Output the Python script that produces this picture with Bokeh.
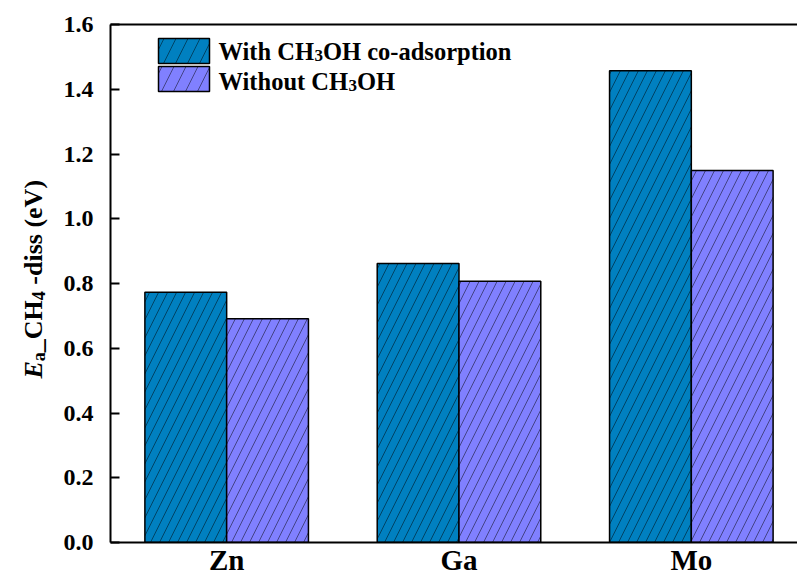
import math
from bokeh.plotting import figure
from bokeh.layouts import row
from bokeh.models import Range1d, FixedTicker, LinearAxis, Label, BoxAnnotation
from bokeh.embed import file_html
from bokeh.resources import INLINE

# ---------------- data ----------------
categories = ["Zn", "Ga", "Mo"]
with_ch3oh = [0.773, 0.862, 1.457]
without_ch3oh = [0.691, 0.807, 1.149]
y_ticks = [0.0, 0.2, 0.4, 0.6, 0.8, 1.0, 1.2, 1.4, 1.6]
y_tick_labels = ["0.0", "0.2", "0.4", "0.6", "0.8", "1.0", "1.2", "1.4", "1.6"]

# ---------------- style / layout ----------------
FONT = "Liberation Serif"
BLUE = "#0080C0"
PURPLE = "#8080FF"
BAR_W = 0.352
PAGE_W, PAGE_H = 797, 578
TITLE_W = 56                 # narrow strip that carries the rotated y title
B_LEFT, B_TOP, B_BOTTOM = 110, 24, 34
X0, X1 = 0.5, 3.457
Y0, Y1 = 0.0, 1.6

# approximate advance widths (Times/Liberation Serif Bold), per em
W = {"W": 1.0, "i": .278, "t": .333, "h": .556, " ": .25, "C": .722, "H": .778,
     "O": .778, "c": .444, "o": .5, "-": .333, "a": .5, "d": .556, "s": .389,
     "r": .444, "p": .556, "n": .556, "u": .556, "_": .5, "3": .5, "4": .5,
     "(": .333, ")": .333, "e": .444, "V": .722, "E": .667}


def text_width(s, size):
    return sum(W.get(ch, .5) for ch in s) * size


x = list(range(1, len(categories) + 1))

# ---------------- main chart ----------------
fig = figure(width=PAGE_W - TITLE_W, height=PAGE_H, output_backend="svg",
             toolbar_location=None, x_range=Range1d(X0, X1), y_range=Range1d(Y0, Y1),
             min_border_left=B_LEFT - TITLE_W, min_border_right=0,
             min_border_top=B_TOP, min_border_bottom=B_BOTTOM)
fig.outline_line_color = None
fig.xgrid.visible = False
fig.ygrid.visible = False
fig.background_fill_color = "white"
fig.border_fill_color = "white"

hatch_kw = dict(hatch_pattern="/", hatch_scale=18, hatch_color="black",
                hatch_alpha=0.6, hatch_weight=0.8)
fig.vbar(x=[xi - BAR_W / 2 for xi in x], top=with_ch3oh, bottom=0, width=BAR_W,
         fill_color=BLUE, line_color="black", line_width=1.5, **hatch_kw)
fig.vbar(x=[xi + BAR_W / 2 for xi in x], top=without_ch3oh, bottom=0, width=BAR_W,
         fill_color=PURPLE, line_color="black", line_width=1.5, **hatch_kw)

# y axis
ya = fig.yaxis[0]
ya.ticker = FixedTicker(ticks=y_ticks, minor_ticks=[])
ya.major_label_overrides = {t: l for t, l in zip(y_ticks, y_tick_labels)}
ya.major_label_text_font = FONT
ya.major_label_text_font_style = "bold"
ya.major_label_text_font_size = "24px"
ya.major_label_text_color = "black"
ya.major_label_standoff = 17
ya.major_tick_in = 9
ya.major_tick_out = 0
ya.major_tick_line_width = 2
ya.axis_line_width = 2
ya.minor_tick_line_color = None

# x axis with category labels
xa = fig.xaxis[0]
xa.ticker = FixedTicker(ticks=x, minor_ticks=[])
xa.major_label_overrides = {xi: c for xi, c in zip(x, categories)}
xa.major_label_text_font = FONT
xa.major_label_text_font_style = "bold"
xa.major_label_text_font_size = "29px"
xa.major_label_text_color = "black"
xa.major_label_standoff = 1
xa.major_tick_line_color = None
xa.major_tick_in = 0
xa.major_tick_out = 0
xa.minor_tick_line_color = None
xa.axis_line_width = 2

# top frame line
top = LinearAxis(ticker=FixedTicker(ticks=[], minor_ticks=[]),
                 major_tick_line_color=None, minor_tick_line_color=None,
                 axis_line_width=2)
fig.add_layout(top, "above")

# legend (screen units relative to the frame)
LEG_FS, LEG_SUB = 24.5, 17
legend_rows = [
    (BLUE, [("With CH", LEG_FS, 0), ("3", LEG_SUB, -4), ("OH co-adsorption", LEG_FS, 0)],
     504, 479, 491),
    (PURPLE, [("Without CH", LEG_FS, 0), ("3", LEG_SUB, -4), ("OH", LEG_FS, 0)],
     476, 451, 461),
]
for color, parts, btop, bbot, base in legend_rows:
    fig.add_layout(BoxAnnotation(left=48, right=99, top=btop, bottom=bbot,
                                 left_units="screen", right_units="screen",
                                 top_units="screen", bottom_units="screen",
                                 fill_color=color, fill_alpha=1.0,
                                 line_color="black", line_width=1.5, line_alpha=1.0,
                                 hatch_pattern="/", hatch_scale=24, hatch_color="black",
                                 hatch_alpha=0.6, hatch_weight=0.8))
    xx = 108
    for txt, sz, sh in parts:
        fig.add_layout(Label(x=xx, y=base + sh, x_units="screen", y_units="screen",
                             text=txt, text_align="left", text_baseline="alphabetic",
                             text_font=FONT, text_font_style="bold",
                             text_font_size=f"{sz}px", text_color="black"))
        xx += text_width(txt, sz)

# ---------------- y title strip ----------------
strip = figure(width=TITLE_W, height=PAGE_H, output_backend="svg", toolbar_location=None,
               x_range=Range1d(0, TITLE_W), y_range=Range1d(0, PAGE_H),
               x_axis_type=None, y_axis_type=None,
               min_border_left=0, min_border_right=0, min_border_top=0,
               min_border_bottom=0)
strip.outline_line_color = None
strip.xgrid.visible = False
strip.ygrid.visible = False
strip.background_fill_color = "white"
strip.border_fill_color = "white"

frame_bottom = PAGE_H - B_BOTTOM   # frames of the row are aligned
title_anchor_x = 33     # anchor (page px); glyphs render a few px to its right
title_start_sy = 380    # lower end of the title, page px
# (text, size, style, baseline shift, gap before in px)
pieces = [("E", 26, "bold italic", 0, 0), ("a", 18, "bold", 5, 0),
          ("_CH", 26, "bold", 0, 0), ("4", 18, "bold", 5, 0),
          ("-diss (eV)", 26, "bold", 0, 6.5)]
sy = title_start_sy
for txt, sz, st, sh, gap in pieces:
    sy -= gap
    strip.add_layout(Label(x=title_anchor_x + sh, y=frame_bottom - sy, x_units="screen",
                           y_units="screen", text=txt, angle=math.pi / 2,
                           text_align="left", text_baseline="alphabetic",
                           text_font=FONT, text_font_style=st,
                           text_font_size=f"{sz}px", text_color="black"))
    sy -= text_width(txt, sz)

p = row(strip, fig, spacing=0)

open("out.html", "w").write(file_html(p, INLINE))
